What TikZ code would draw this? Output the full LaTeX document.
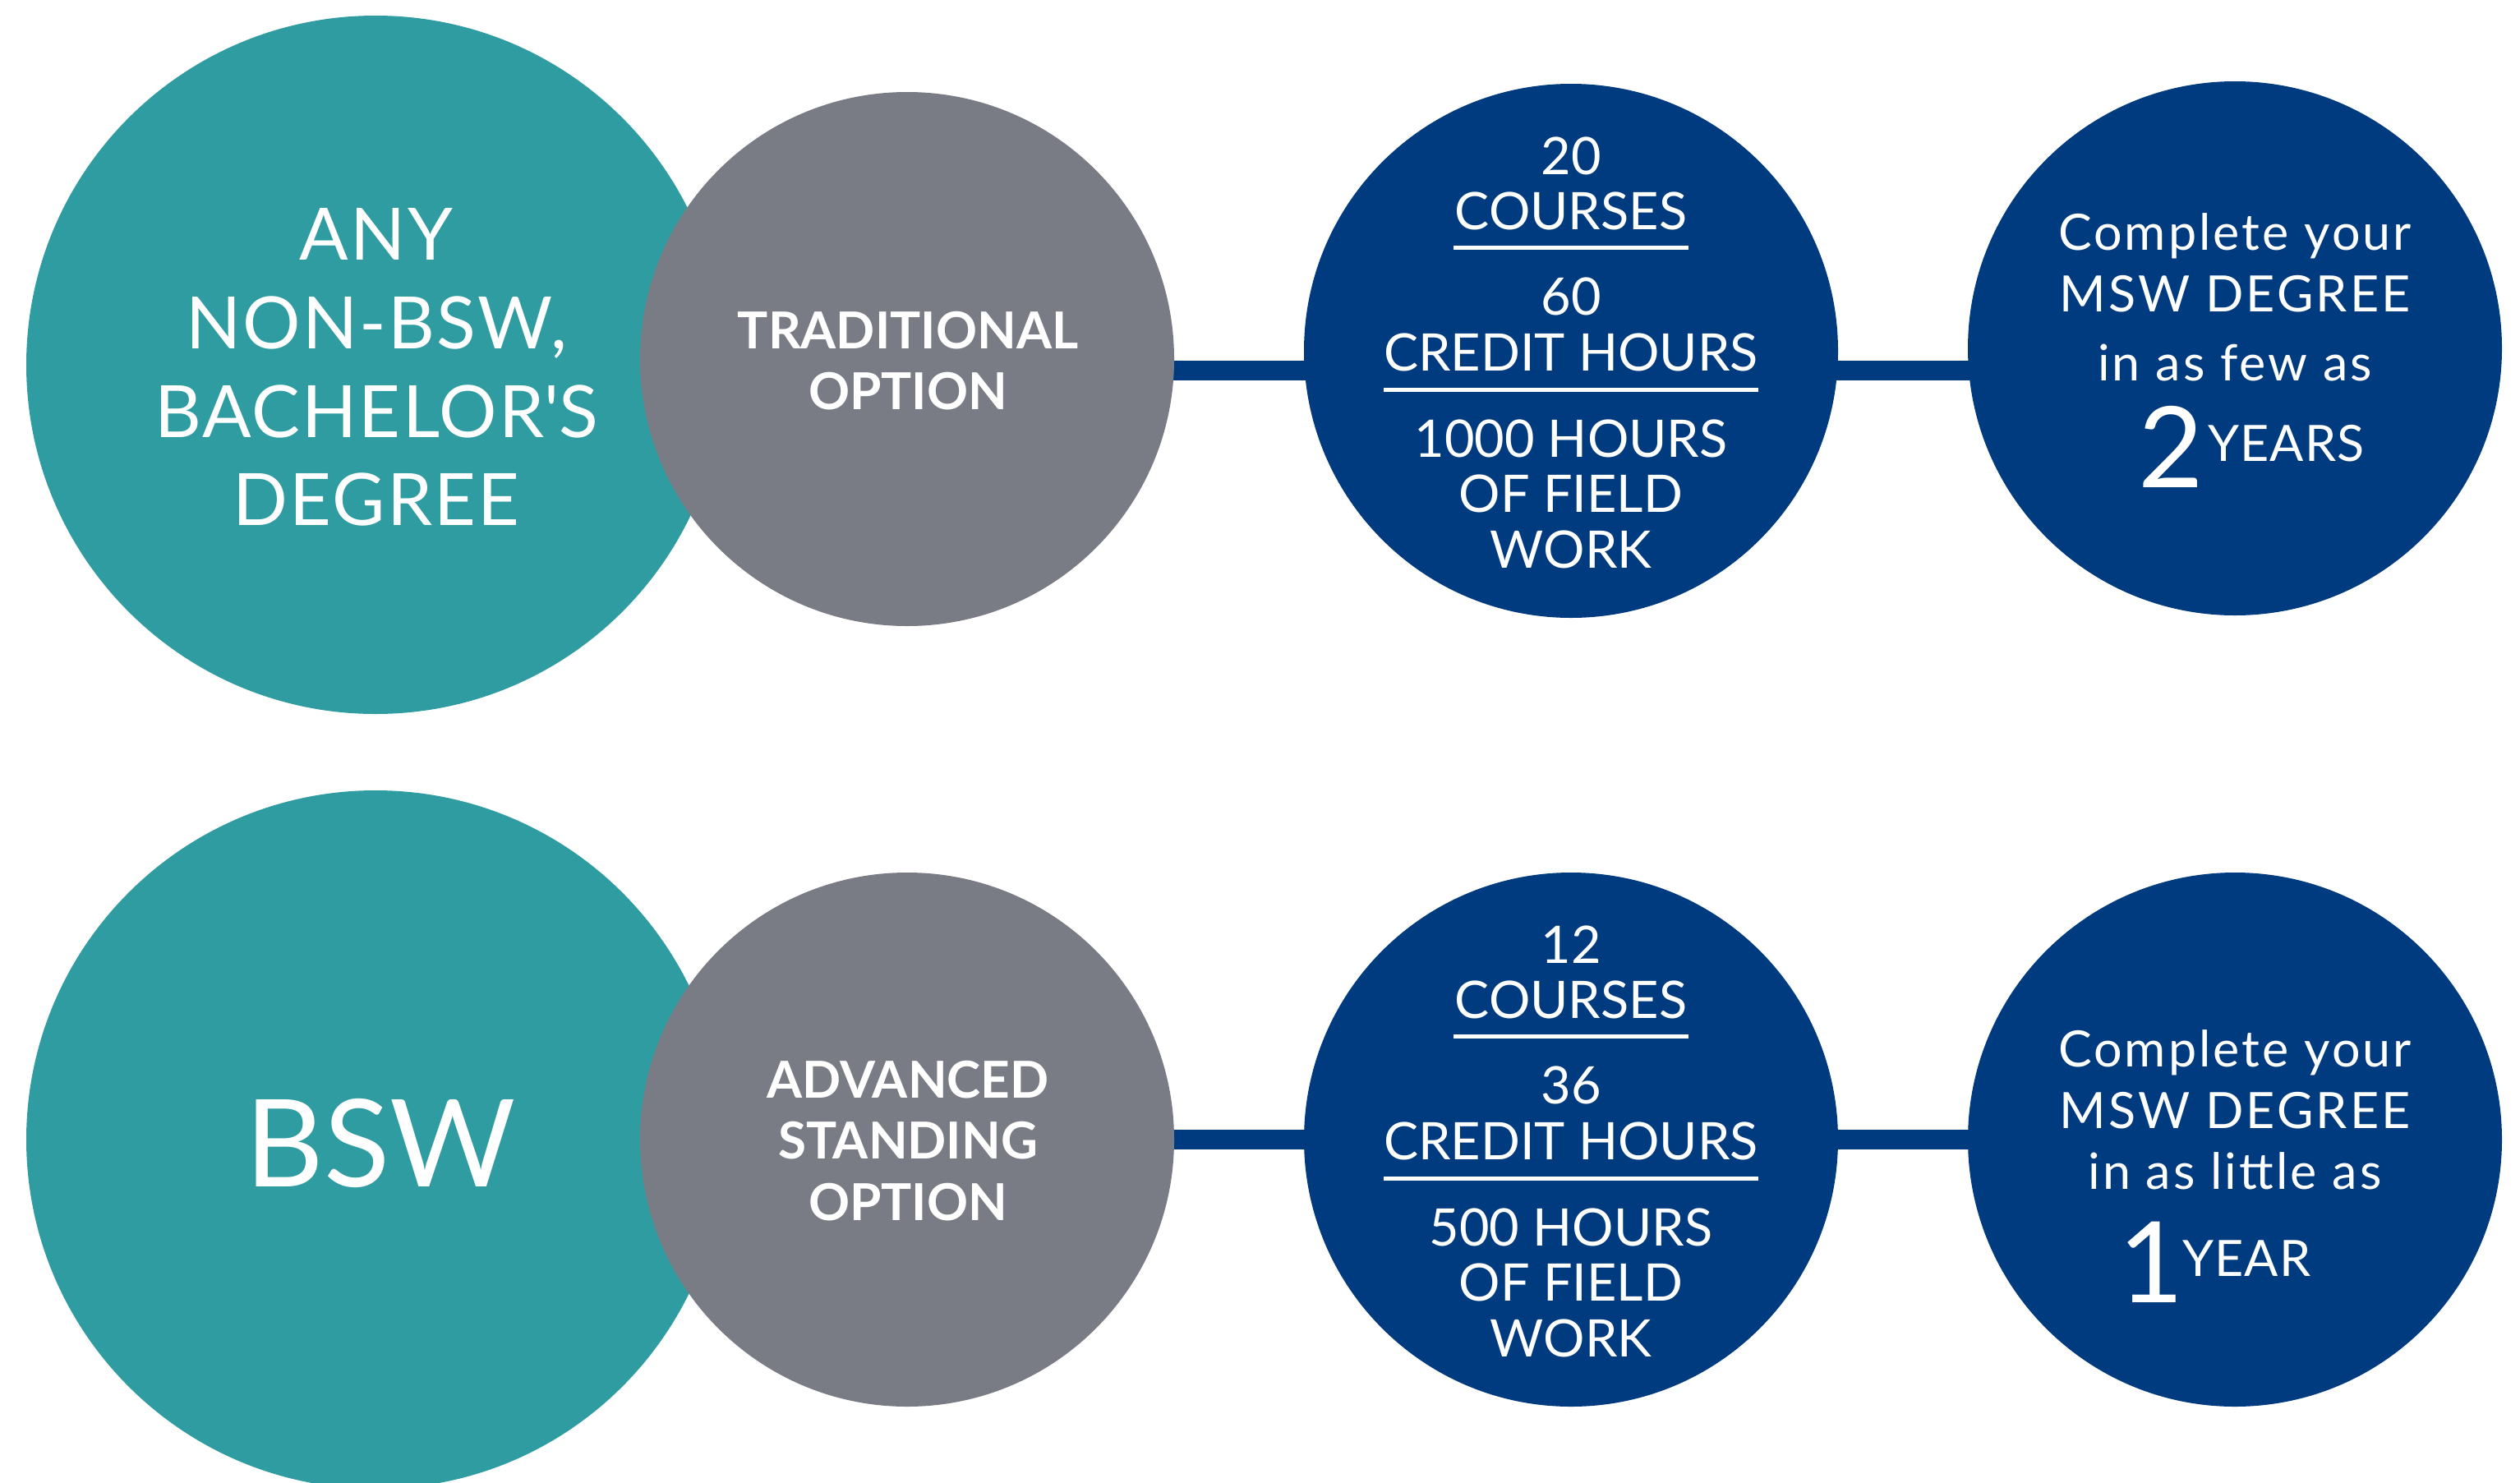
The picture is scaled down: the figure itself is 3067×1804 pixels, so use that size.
\documentclass[tikz,border=0pt]{standalone}
\usepackage{fontspec}
\setmainfont{Lato}
\usetikzlibrary{backgrounds}
\definecolor{tealc}{RGB}{46,156,160}
\definecolor{grayc}{RGB}{122,124,133}
\definecolor{navyc}{RGB}{0,59,128}
\begin{document}
\begin{tikzpicture}[x=1pt,y=-1pt,
  bubble/.style={circle,inner sep=0pt,outer sep=0pt,draw=none},
  txt/.style={text=white,inner sep=0pt,anchor=base},
  tealtxt/.style={txt,font=\fontsize{88}{100}\selectfont\addfontfeatures{LetterSpace=2.5}},
  bsw/.style={txt,font=\fontsize{148}{160}\selectfont},
  graytxt/.style={txt,font=\bfseries\fontsize{62}{70}\selectfont},
  bluetxt/.style={txt,font=\fontsize{63}{70}\selectfont},
  goaltxt/.style={txt,font=\fontsize{61}{70}\selectfont\addfontfeatures{LetterSpace=5}},
  bignum/.style={txt,anchor=base west,font=\fontsize{137}{150}\selectfont},
  unit/.style={txt,anchor=base west,font=\fontsize{61}{70}\selectfont\addfontfeatures{LetterSpace=2}},
  conn/.style={line width=24pt,draw=navyc},
  rulew/.style={line width=5pt,draw=white}]
\useasboundingbox (0,0) rectangle (3067,1804);

% ---- circles
\node[bubble,fill=tealc,minimum size=850pt] (t1) at (457,444) {};
\node[bubble,fill=grayc,minimum size=650pt] (g1) at (1104,437) {};
\node[bubble,fill=navyc,minimum size=650pt] (b1) at (1912,427) {};
\node[bubble,fill=navyc,minimum size=650pt] (r1) at (2720,424) {};
\node[bubble,fill=tealc,minimum size=850pt] (t2) at (457,1387) {};
\node[bubble,fill=grayc,minimum size=650pt] (g2) at (1104,1387) {};
\node[bubble,fill=navyc,minimum size=650pt] (b2) at (1912,1387) {};
\node[bubble,fill=navyc,minimum size=650pt] (r2) at (2720,1387) {};

% ---- connectors
\coordinate (lt) at (0,451);
\coordinate (lb) at (0,1387);
\begin{pgfonlayer}{background}
\fill[white] (0,0) rectangle (3067,1804);
\draw[conn] (g1.center |- lt) -- (b1.center |- lt);
\draw[conn] (b1.center |- lt) -- (r1.center |- lt);
\draw[conn] (g2.center |- lb) -- (b2.center |- lb);
\draw[conn] (b2.center |- lb) -- (r2.center |- lb);
\end{pgfonlayer}

% ---- teal texts
\node[tealtxt] (t1a) at (458,316) {ANY};
\node[tealtxt] (t1b) at (458,424) {NON-BSW,};
\node[tealtxt] (t1c) at (458,532) {BACHELOR\textquotesingle S};
\node[tealtxt] (t1d) at (458,639) {DEGREE};
\node[bsw] (t2a) at (463,1444) {BSW};

% ---- gray texts
\node[graytxt] (g1a) at (1105,424) {TRADITIONAL};
\node[graytxt] (g1b) at (1105,498) {OPTION};
\node[graytxt] (g2a) at (1105,1336) {ADVANCED};
\node[graytxt] (g2b) at (1105,1410) {STANDING};
\node[graytxt] (g2c) at (1105,1485) {OPTION};

% ---- blue middle texts (top)
\node[bluetxt] (b1a) at (1912,212) {20};
\node[bluetxt] (b1b) at (1912,279) {COURSES};
\draw[rulew] (1769,301) -- (2055,301);
\node[bluetxt] (b1c) at (1912,383) {60};
\node[bluetxt] (b1d) at (1912,451) {CREDIT HOURS};
\draw[rulew] (1684,474) -- (2140,474);
\node[bluetxt] (b1e) at (1912,556) {1000 HOURS};
\node[bluetxt] (b1f) at (1912,623) {OF FIELD};
\node[bluetxt] (b1g) at (1912,691) {WORK};

% ---- blue middle texts (bottom)
\node[bluetxt] (b2a) at (1912,1172) {12};
\node[bluetxt] (b2b) at (1912,1239) {COURSES};
\draw[rulew] (1769,1261) -- (2055,1261);
\node[bluetxt] (b2c) at (1912,1343) {36};
\node[bluetxt] (b2d) at (1912,1411) {CREDIT HOURS};
\draw[rulew] (1684,1434) -- (2140,1434);
\node[bluetxt] (b2e) at (1912,1516) {500 HOURS};
\node[bluetxt] (b2f) at (1912,1583) {OF FIELD};
\node[bluetxt] (b2g) at (1912,1651) {WORK};

% ---- goal texts
\node[goaltxt] (r1a) at (2720,304) {Complete your};
\node[goaltxt] (r1b) at (2720,379) {MSW DEGREE};
\node[goaltxt] (r1c) at (2720,463) {in as few as};
\node[bignum] (r1d) at (2602,593) {2};
\node[unit] (r1e) at (2687,561) {YEARS};

\node[goaltxt] (r2a) at (2720,1298) {Complete your};
\node[goaltxt] (r2b) at (2720,1373) {MSW DEGREE};
\node[goaltxt] (r2c) at (2720,1447) {in as little as};
\node[bignum] (r2d) at (2578,1585) {1};
\node[unit] (r2e) at (2656,1553) {YEAR};
\end{tikzpicture}
\end{document}
